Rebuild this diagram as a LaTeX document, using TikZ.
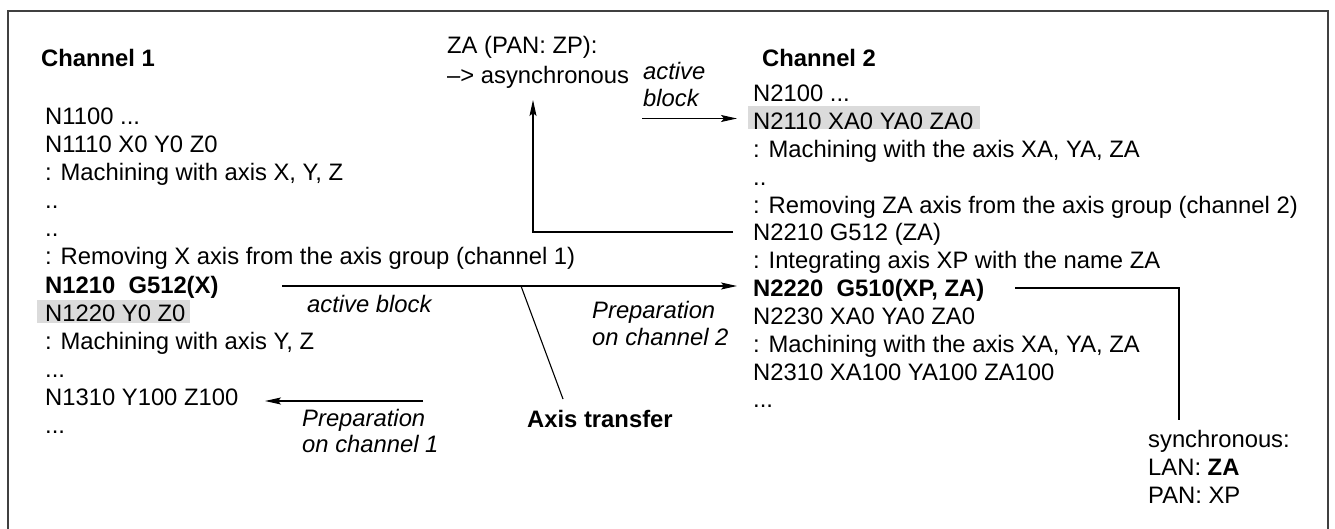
\documentclass[tikz,border=0pt]{standalone}
\usepackage{fontspec}
\setmainfont{Liberation Sans}
\usetikzlibrary{arrows.meta}
\begin{document}
\begin{tikzpicture}[x=1pt,y=-1pt,
  txt/.style={anchor=base west, inner sep=0pt, font=\fontsize{23.8}{28}\selectfont},
  btxt/.style={txt, font=\fontsize{23.8}{28}\selectfont\bfseries},
  itxt/.style={txt, font=\fontsize{23.8}{28}\selectfont\itshape},
  conn/.style={line width=1.1pt, draw=black},
  arr/.style={conn, -{Stealth[length=16pt,width=7pt,inset=3pt]}},
  hl/.style={fill=black!14},
  frame/.style={line width=1.8pt, draw=black!75}]
\useasboundingbox (0,0) rectangle (1335,529);

% open frame (no bottom edge)
\draw[frame] (8,529) -- (8,11) -- (1328,11) -- (1328,529);

% highlighted active blocks
\fill[hl] (37,300) rectangle (190,323);
\fill[hl] (748,106) rectangle (980,129);

% channel 1 program
\node[btxt] (ch1) at (41,67) {Channel 1};
\node[txt] (l1100) at (45,125) {N1100 ...};
\node[txt] (l1110) at (45,153) {N1110 X0 Y0 Z0};
\node[txt] (l1mach) at (45,181) {: Machining with axis X, Y, Z};
\node[txt] (l1dotsa) at (45,209) {..};
\node[txt] (l1dotsb) at (45,237) {..};
\node[txt] (l1rem) at (45,265) {: Removing X axis from the axis group (channel 1)};
\node[btxt] (l1210) at (45,293) {N1210\ \ G512(X)};
\node[txt] (l1220) at (45,321) {N1220 Y0 Z0};
\node[txt] (l1machb) at (45,349) {: Machining with axis Y, Z};
\node[txt] (l1dotsc) at (45,377) {...};
\node[txt] (l1310) at (45,405) {N1310 Y100 Z100};
\node[txt] (l1dotsd) at (45,433) {...};

% channel 2 program
\node[btxt] (ch2) at (762,67) {Channel 2};
\node[txt] (l2100) at (753,102) {N2100 ...};
\node[txt] (l2110) at (753,129.8) {N2110 XA0 YA0 ZA0};
\node[txt] (l2mach) at (753,157.6) {: Machining with the axis XA, YA, ZA};
\node[txt] (l2dots) at (753,185.4) {..};
\node[txt] (l2rem) at (753,213.2) {: Removing ZA axis from the axis group (channel 2)};
\node[txt] (l2210) at (753,241) {N2210 G512 (ZA)};
\node[txt] (l2int) at (753,268.8) {: Integrating axis XP with the name ZA};
\node[btxt] (l2220) at (753,296.6) {N2220\ \ G510(XP, ZA)};
\node[txt] (l2230) at (753,324.4) {N2230 XA0 YA0 ZA0};
\node[txt] (l2machb) at (753,352.2) {: Machining with the axis XA, YA, ZA};
\node[txt] (l2310) at (753,380) {N2310 XA100 YA100 ZA100};
\node[txt] (l2dotsb) at (753,407.8) {...};

% annotations
\node[txt] (asyA) at (447,54) {ZA (PAN: ZP):};
\node[txt] (asyB) at (447,84) {\textendash{}> asynchronous};
\node[itxt] (actA) at (643,80) {active};
\node[itxt] (actB) at (643,107) {block};
\node[itxt] (act1) at (307,312) {active block};
\node[itxt] (prep2a) at (592,318) {Preparation};
\node[itxt] (prep2b) at (592,345) {on channel 2};
\node[btxt] (xfer) at (527,427) {Axis transfer};
\node[itxt] (prep1a) at (302,426) {Preparation};
\node[itxt] (prep1b) at (302,452) {on channel 1};
\node[txt] (syncA) at (1148,447.5) {synchronous:};
\node[txt] (syncB) at (1148,475.5) {LAN: \textbf{ZA}};
\node[txt] (syncC) at (1148,503.5) {PAN: XP};

% connector end points
\coordinate (act2s) at (642,118.5);
\coordinate (act2e) at (737,118.5);
\coordinate (g512s) at (733,232);
\coordinate (g512k) at (533,232);
\coordinate (asyTip) at (533,100);
\coordinate (xs) at (282,286);
\coordinate (xe) at (737,286);
\coordinate (xfTop) at (521,286);
\coordinate (xfBot) at (563,399);
\coordinate (p1s) at (423,401);
\coordinate (p1e) at (265,401);
\coordinate (syS) at (1015,288);
\coordinate (syK) at (1179,288);
\coordinate (syE) at (1179,420);

% connectors
\draw[arr] (act2s) -- (act2e);
\draw[arr] (g512s) -- (g512k) -- (asyTip);
\draw[arr] (xs) -- (xe);
\draw[conn] (xfTop) -- (xfBot);
\draw[arr] (p1s) -- (p1e);
\draw[conn] (syS) -- (syK) -- (syE);
\end{tikzpicture}
\end{document}
